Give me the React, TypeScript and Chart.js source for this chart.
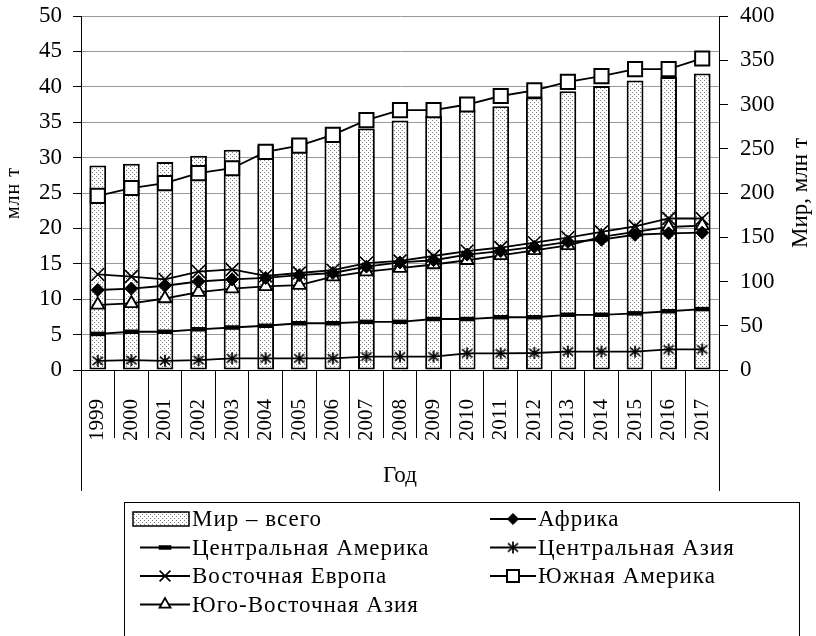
import React, { useEffect, useRef } from 'react';
import { Chart, registerables } from 'chart.js';
import { drawPoint } from 'chart.js/helpers';

Chart.register(...registerables);

const years = ['1999', '2000', '2001', '2002', '2003', '2004', '2005', '2006', '2007', '2008', '2009', '2010', '2011', '2012', '2013', '2014', '2015', '2016', '2017'];

// Мир – всего (right axis, млн т)
const worldTotal = [231, 233, 235, 242, 249, 254, 260, 265, 273, 282, 287, 294, 298, 308, 315, 321, 327, 331, 335];
// Left axis series (млн т)
const africa = [11.3, 11.5, 11.9, 12.5, 12.8, 13.0, 13.4, 13.7, 14.6, 15.2, 15.5, 16.3, 16.8, 17.4, 18.1, 18.4, 19.1, 19.3, 19.4];
const centralAmerica = [5.1, 5.4, 5.4, 5.75, 6.0, 6.25, 6.6, 6.6, 6.8, 6.8, 7.2, 7.2, 7.45, 7.45, 7.8, 7.8, 8.0, 8.3, 8.6];
const centralAsia = [1.3, 1.4, 1.3, 1.4, 1.65, 1.65, 1.65, 1.65, 1.9, 1.9, 1.9, 2.35, 2.35, 2.4, 2.6, 2.6, 2.6, 2.9, 2.9];
const easternEurope = [13.5, 13.2, 12.8, 13.9, 14.2, 13.3, 13.7, 14.1, 15.1, 15.4, 16.1, 16.8, 17.3, 18.0, 18.7, 19.5, 20.3, 21.4, 21.4];
const southAmerica = [24.6, 25.7, 26.4, 27.8, 28.5, 30.8, 31.7, 33.2, 35.3, 36.7, 36.7, 37.5, 38.7, 39.5, 40.7, 41.5, 42.5, 42.5, 44.0];
const seAsia = [9.2, 9.4, 10.1, 11.0, 11.5, 11.8, 12.0, 13.2, 13.9, 14.4, 14.9, 15.5, 16.2, 16.9, 17.6, 18.8, 19.5, 20.2, 20.4];

const labels = {
  world: 'Мир – всего',
  africa: 'Африка',
  centralAmerica: 'Центральная Америка',
  centralAsia: 'Центральная Азия',
  easternEurope: 'Восточная Европа',
  southAmerica: 'Южная Америка',
  seAsia: 'Юго-Восточная Азия',
};

const leftTitle = 'млн т';
const rightTitle = 'Мир, млн т';
const xTitle = 'Год';

const FONT = '"Liberation Serif", "Times New Roman", serif';

function makeDotPattern(ctx: CanvasRenderingContext2D) {
  const c = document.createElement('canvas');
  c.width = 4;
  c.height = 4;
  const g = c.getContext('2d')!;
  g.fillStyle = '#ffffff';
  g.fillRect(0, 0, 4, 4);
  g.fillStyle = '#7a7a7a';
  g.fillRect(0, 0, 1, 1);
  g.fillRect(2, 2, 1, 1);
  return ctx.createPattern(c, 'repeat');
}

function makeAsterisk(size: number) {
  const c = document.createElement('canvas');
  c.width = size;
  c.height = size;
  const g = c.getContext('2d')!;
  g.strokeStyle = '#000';
  g.lineWidth = 1.7;
  const m = size / 2;
  const r = size / 2 - 1;
  const d = r * 0.85;
  g.beginPath();
  g.moveTo(m, m - r);
  g.lineTo(m, m + r);
  g.moveTo(m - d, m - d * 0.8);
  g.lineTo(m + d, m + d * 0.8);
  g.moveTo(m + d, m - d * 0.8);
  g.lineTo(m - d, m + d * 0.8);
  g.stroke();
  return c;
}

const decorPlugin = {
  id: 'decor',
  afterDraw(chart: any) {
    const ctx: CanvasRenderingContext2D = chart.ctx;
    const area = chart.chartArea;
    ctx.save();
    ctx.strokeStyle = '#000';
    ctx.lineWidth = 1;
    // frame lines of the category label area
    ctx.beginPath();
    ctx.moveTo(Math.round(area.left) + 0.5, area.bottom);
    ctx.lineTo(Math.round(area.left) + 0.5, area.bottom + 121);
    ctx.moveTo(Math.round(area.right) + 0.5, area.bottom);
    ctx.lineTo(Math.round(area.right) + 0.5, area.bottom + 121);
    ctx.stroke();

    const cy = (area.top + area.bottom) / 2;
    ctx.fillStyle = '#000';
    // left title
    ctx.save();
    ctx.font = `20px ${FONT}`;
    (ctx as any).letterSpacing = '1px';
    ctx.translate(14, cy);
    ctx.rotate(-Math.PI / 2);
    ctx.textAlign = 'center';
    ctx.textBaseline = 'middle';
    ctx.fillText(leftTitle, 0, 0);
    ctx.restore();
    // right title
    ctx.save();
    ctx.font = `23px ${FONT}`;
    ctx.translate(807, cy);
    ctx.rotate(-Math.PI / 2);
    ctx.textAlign = 'center';
    ctx.textBaseline = 'alphabetic';
    ctx.fillText(rightTitle, 0, 0);
    ctx.restore();
    // x title
    ctx.font = `23px ${FONT}`;
    ctx.textAlign = 'center';
    ctx.textBaseline = 'alphabetic';
    ctx.fillText(xTitle, (area.left + area.right) / 2, 482);

    // legend box
    ctx.strokeRect(124.5, 502.5, 675, 200);
    ctx.font = `23px ${FONT}`;
    (ctx as any).letterSpacing = '1px';
    ctx.textAlign = 'left';
    ctx.textBaseline = 'middle';
    chart.data.datasets.forEach((ds: any, i: number) => {
      const col = i % 2;
      const row = Math.floor(i / 2);
      const y = 519 + row * 28.5;
      const x0 = col ? 490 : 140;
      const x1 = col ? 536 : 190;
      if (ds.type === 'bar') {
        ctx.fillStyle = ds.backgroundColor;
        ctx.fillRect(133, y - 7, 56, 14);
        ctx.lineWidth = 1.5;
        ctx.strokeStyle = '#000';
        ctx.strokeRect(133, y - 7, 56, 14);
      } else {
        ctx.strokeStyle = '#000';
        ctx.lineWidth = ds.borderWidth;
        ctx.beginPath();
        ctx.moveTo(x0, y);
        ctx.lineTo(x1, y);
        ctx.stroke();
        ctx.fillStyle = ds.pointBackgroundColor;
        ctx.strokeStyle = ds.pointBorderColor;
        ctx.lineWidth = ds.pointBorderWidth;
        drawPoint(ctx, {
          pointStyle: ds.pointStyle,
          rotation: 0,
          radius: ds.pointRadius * 0.85,
          borderWidth: ds.pointBorderWidth,
        } as any, (x0 + x1) / 2, y);
      }
      ctx.fillStyle = '#000';
      ctx.fillText(ds.label, x1 + 2, y + 1);
    });
    ctx.restore();
  },
};

export default function App() {
  const ref = useRef<HTMLCanvasElement>(null);

  useEffect(() => {
    const canvas = ref.current!;
    const ctx = canvas.getContext('2d')!;
    const pattern = makeDotPattern(ctx);
    const asterisk = makeAsterisk(14);

    const lineBase = {
      type: 'line' as const,
      yAxisID: 'y',
      borderColor: '#000',
      borderWidth: 1.8,
      tension: 0,
      pointBorderColor: '#000',
      order: 1,
    };

    const chart = new Chart(canvas, {
      data: {
        labels: years,
        datasets: [
          {
            type: 'bar',
            label: labels.world,
            data: worldTotal,
            yAxisID: 'y1',
            backgroundColor: pattern as any,
            borderColor: '#000',
            borderWidth: 2,
            borderSkipped: false,
            barPercentage: 0.5,
            categoryPercentage: 1,
            order: 10,
          },
          {
            ...lineBase,
            label: labels.africa,
            data: africa,
            pointStyle: 'rectRot',
            pointRadius: 6.5,
            pointBackgroundColor: '#000',
            pointBorderWidth: 1,
          },
          {
            ...lineBase,
            label: labels.centralAmerica,
            data: centralAmerica,
            pointStyle: 'line',
            pointRadius: 7.5,
            pointBackgroundColor: '#000',
            pointBorderWidth: 4.5,
          },
          {
            ...lineBase,
            label: labels.centralAsia,
            data: centralAsia,
            pointStyle: asterisk as any,
            pointRadius: 7,
            pointBackgroundColor: '#000',
            pointBorderWidth: 1.5,
          },
          {
            ...lineBase,
            label: labels.easternEurope,
            data: easternEurope,
            pointStyle: 'crossRot',
            pointRadius: 9,
            pointBackgroundColor: '#000',
            pointBorderWidth: 1.6,
          },
          {
            ...lineBase,
            label: labels.southAmerica,
            data: southAmerica,
            pointStyle: 'rect',
            pointRadius: 10,
            pointBackgroundColor: '#fff',
            pointBorderWidth: 2,
          },
          {
            ...lineBase,
            label: labels.seAsia,
            data: seAsia,
            pointStyle: 'triangle',
            pointRadius: 7.5,
            pointBackgroundColor: '#fff',
            pointBorderWidth: 1.8,
          },
        ] as any,
      },
      options: {
        responsive: false,
        devicePixelRatio: 1,
        animation: false,
        layout: { padding: { top: 16, bottom: 136, left: 0, right: 0 } },
        plugins: {
          legend: { display: false },
          tooltip: { enabled: false },
        },
        scales: {
          x: {
            type: 'category',
            offset: true,
            grid: {
              offset: true,
              drawOnChartArea: false,
              tickLength: 68,
              color: '#000',
              lineWidth: 1,
            },
            border: { color: '#000', width: 1 },
            ticks: {
              autoSkip: false,
              minRotation: 90,
              maxRotation: 90,
              padding: -39,
              color: '#000',
              font: { family: FONT, size: 21 },
            },
            afterFit: (s: any) => { s.height = 130; s.paddingLeft = 0; s.paddingRight = 0; },
          },
          y: {
            position: 'left',
            min: 0,
            max: 50,
            ticks: {
              stepSize: 5,
              padding: 11,
              color: '#000',
              font: { family: FONT, size: 23 },
            },
            grid: {
              color: '#999',
              lineWidth: 1,
              tickLength: 8,
              tickColor: '#000',
            },
            border: { color: '#000', width: 1 },
            afterFit: (s: any) => { s.width = 81; s.paddingTop = 8; s.paddingBottom = 8; },
          },
          y1: {
            position: 'right',
            min: 0,
            max: 400,
            ticks: {
              stepSize: 50,
              padding: 12,
              color: '#000',
              font: { family: FONT, size: 23 },
            },
            grid: {
              drawOnChartArea: false,
              tickLength: 9,
              tickColor: '#000',
            },
            border: { color: '#000', width: 1 },
            afterFit: (s: any) => { s.width = 97; s.paddingTop = 8; s.paddingBottom = 8; },
          },
        },
      } as any,
      plugins: [decorPlugin],
    });
    return () => chart.destroy();
  }, []);

  return (
    <div style={{ position: 'absolute', left: 0, top: 0, width: 816, height: 636, background: '#fff', overflow: 'hidden' }}>
      <canvas ref={ref} width={816} height={636} style={{ width: 816, height: 636, display: 'block' }} />
    </div>
  );
}
